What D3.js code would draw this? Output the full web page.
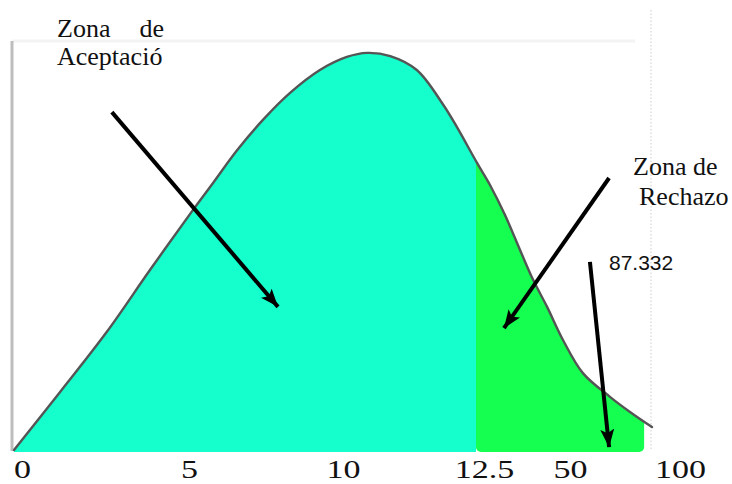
<!DOCTYPE html>
<html>
<head>
<meta charset="utf-8">
<script src="https://cdn.jsdelivr.net/npm/d3@7"></script>
<style>
  html, body { margin: 0; padding: 0; background: #fff; }
  svg { display: block; }
  .serif { font-family: "Liberation Serif", "Times New Roman", serif; }
  .sans { font-family: "Liberation Sans", Arial, sans-serif; }
</style>
</head>
<body>
<svg id="chart" width="732" height="484"></svg>
<script>
// ---------------- DATA ----------------
const tickValues = [0, 5, 10, 12.5, 50, 100];
const tickLabels = ["0", "5", "10", "12.5", "50", "100"];
// density curve (x value, relative height 0..100)
const curveX = [0, 1.38, 2.78, 4.07, 5.39, 6.04, 6.82, 7.66, 8.54, 9.51, 10.21, 10.57, 10.98, 11.45, 11.91, 12.16, 12.94, 18.6, 25.1, 31.7, 37.4, 43.5, 50.45, 59.5, 71.8, 80.9, 90.9];
const curveY = [0, 14.2, 28.9, 44.0, 58.7, 65.3, 73.3, 80.7, 87.3, 92.9, 96.1, 97.1, 96.3, 92.9, 84.6, 79.0, 70.2, 64.8, 57.5, 48.9, 41.6, 35.0, 26.9, 18.8, 13.0, 9.3, 5.6];
const criticalValue = 12.5;
const statValue = 87.332;
const acceptLabel = ["Zona", "de", "Aceptació"];
const rejectLabel = ["Zona de", "Rechazo"];
const statLabel = "87.332";
// annotation arrows in data units [x0, y0, x1, y1]
const arrows = [
  [2.93, 82.6, 8.15, 35.0],
  [71.4, 66.5, 24.7, 29.8],
  [62.7, 46.0, 71.4, 0.7]
];

// ---------------- LAYOUT ----------------
const svg = d3.select("#chart");
const x = d3.scaleLinear().domain(tickValues).range([14, 181, 335, 476, 562, 672]);
const y = d3.scaleLinear().domain([0, 100]).range([450, 41]);
const pts = curveX.map((v, i) => [v, curveY[i]]);

// faint frame lines
svg.append("line").attr("x1", 12).attr("x2", 635).attr("y1", 41).attr("y2", 41)
  .attr("stroke", "#f3f3f3").attr("stroke-width", 3);
svg.append("line").attr("x1", 651).attr("x2", 651).attr("y1", 10).attr("y2", 450)
  .attr("stroke", "#d6d6d6").attr("stroke-width", 1.2).attr("stroke-dasharray", "1.5,2");

// bottom axis
const axis = d3.axisBottom(x).tickValues(tickValues).tickFormat((d, i) => tickLabels[i]).tickSize(0);
const gAxis = svg.append("g").attr("transform", `translate(0,${y(0)})`).call(axis);
gAxis.attr("font-family", null).attr("font-size", null);
gAxis.select(".domain").attr("stroke", "#c8c8c8").attr("stroke-width", 1.5)
  .attr("d", `M${x(0) - 2},0H${x(5)}`);
gAxis.selectAll(".tick text")
  .attr("class", "serif")
  .attr("y", 28).attr("dy", null)
  .attr("transform", "translate(8,0) scale(1.36,1)")
  .style("font-size", "25px").attr("fill", "#111");

// clip regions
const defs = svg.append("defs");
defs.append("clipPath").attr("id", "clipAccept").append("rect")
  .attr("x", x(0) - 2).attr("y", 0).attr("width", x(criticalValue) - x(0) + 2).attr("height", y(0) + 2);
defs.append("clipPath").attr("id", "clipReject").append("rect")
  .attr("x", x(criticalValue)).attr("y", -20).attr("width", x(statValue) - x(criticalValue))
  .attr("height", y(0) + 22).attr("rx", 5);

const curve = d3.curveCatmullRom.alpha(0.5);
const area = d3.area().x(d => x(d[0])).y0(y(0) + 2).y1(d => y(d[1])).curve(curve);

svg.append("path").datum(pts).attr("d", area).attr("fill", "#14ffcc").attr("clip-path", "url(#clipAccept)");
svg.append("path").datum(pts).attr("d", area).attr("fill", "#14ff50").attr("clip-path", "url(#clipReject)");

// left axis line
svg.append("line").attr("x1", 12).attr("x2", 12).attr("y1", 41).attr("y2", y(0) + 1)
  .attr("stroke", "#bdbdbd").attr("stroke-width", 3);

// curve line
const line = d3.line().x(d => x(d[0])).y(d => y(d[1])).curve(curve);
svg.append("path").datum(pts).attr("d", line).attr("fill", "none")
  .attr("stroke", "#555").attr("stroke-width", 2.4).attr("stroke-linecap", "round");

// arrows
defs.append("marker").attr("id", "arrowHead").attr("markerUnits", "userSpaceOnUse")
  .attr("markerWidth", 20).attr("markerHeight", 16).attr("refX", 18).attr("refY", 7)
  .attr("orient", "auto")
  .append("path").attr("d", "M0,0L18,7L0,14L4,7Z").attr("fill", "#000");
arrows.forEach(a => {
  svg.append("line")
    .attr("x1", x(a[0])).attr("y1", y(a[1])).attr("x2", x(a[2])).attr("y2", y(a[3]))
    .attr("stroke", "#000").attr("stroke-width", 4)
    .attr("marker-end", "url(#arrowHead)");
});

// texts
function label(cls, tx, ty, size, txt, anchor) {
  svg.append("text").attr("class", cls).attr("x", tx).attr("y", ty)
    .attr("text-anchor", anchor || "start")
    .style("font-size", size + "px").attr("fill", "#111").text(txt);
}
label("serif", 57, 37, 26, acceptLabel[0]);
label("serif", 164, 37, 26, acceptLabel[1], "end");
label("serif", 57, 65, 26, acceptLabel[2]);
label("serif", 633, 175, 26, rejectLabel[0]);
label("serif", 639, 205, 26, rejectLabel[1]);
label("sans", 609, 270, 21, statLabel);
</script>
</body>
</html>
